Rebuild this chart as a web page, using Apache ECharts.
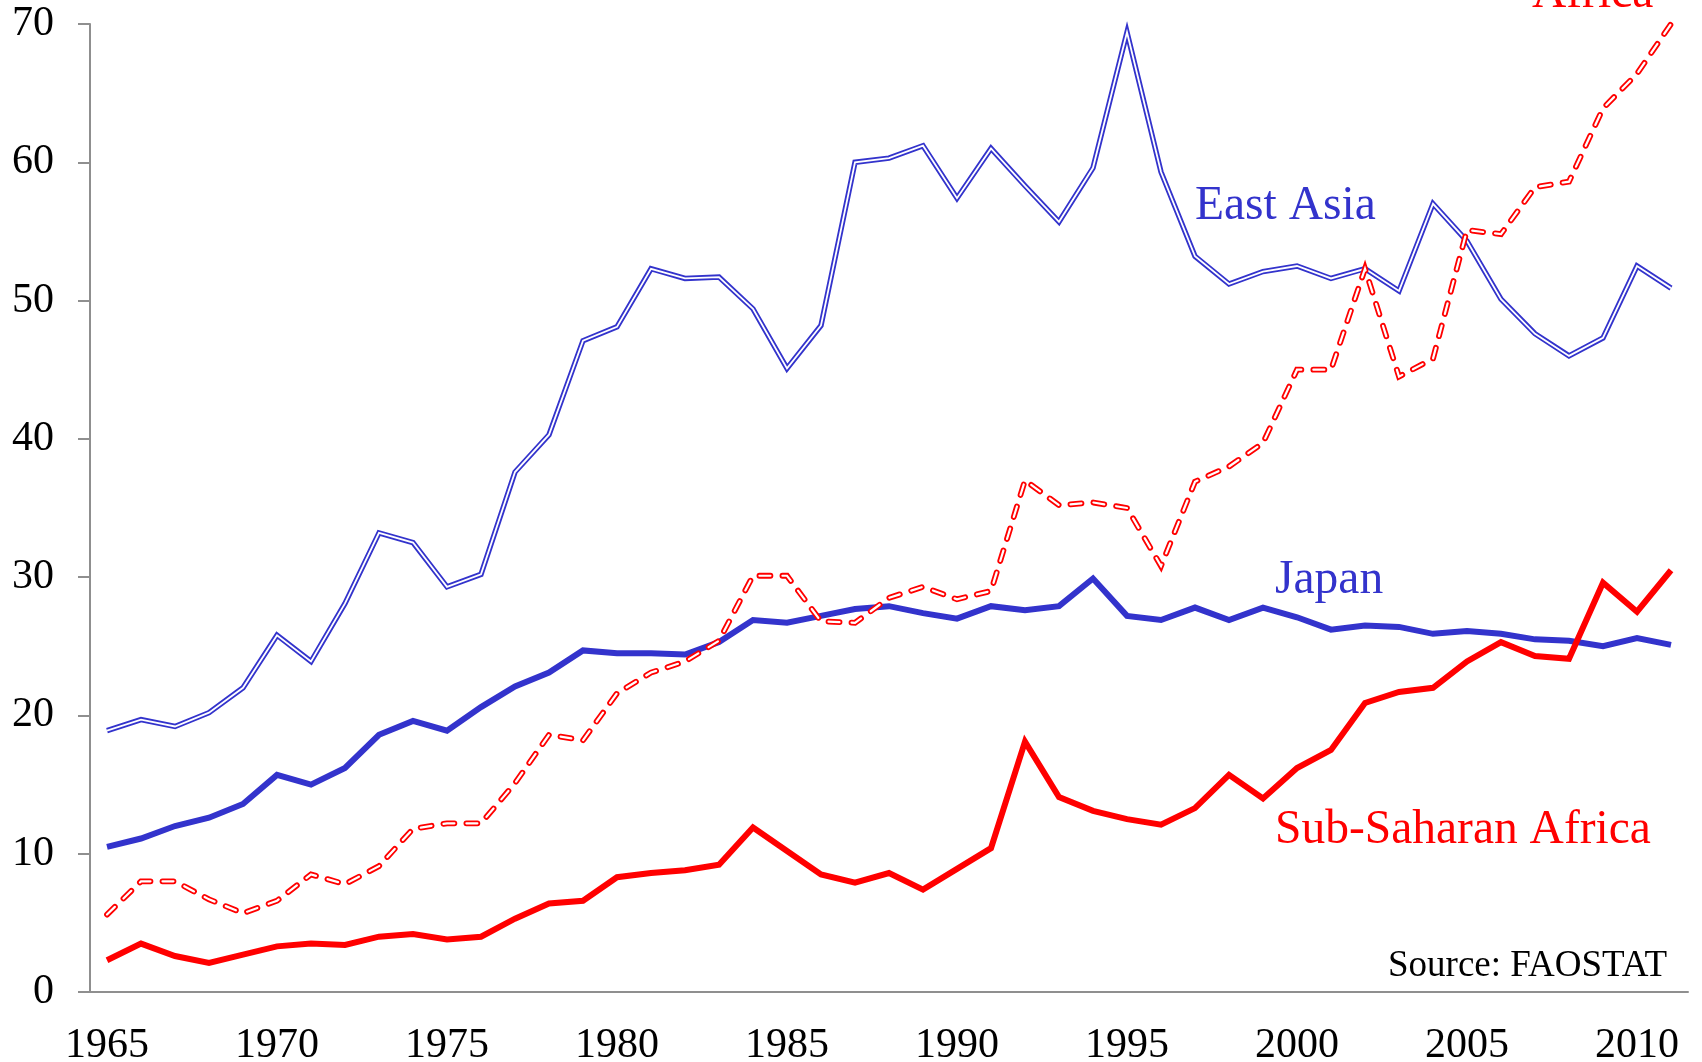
<!DOCTYPE html>
<html>
<head>
<meta charset="utf-8">
<title>Share chart</title>
<script src="https://cdn.jsdelivr.net/npm/echarts@6/dist/echarts.min.js"></script>
<style>
    html, body { margin: 0; padding: 0; background: #fff; }
    #main { width: 1702px; height: 1062px; }
</style>
</head>
<body>
<div id="main"></div>
<script>
var years = [];
for (var y = 1965; y <= 2011; y++) { years.push(String(y)); }

// values
var eastAsia = [18.9, 19.7, 19.2, 20.2, 22.0, 25.8, 23.9, 28.1, 33.2, 32.5,
    29.3, 30.2, 37.6, 40.3, 47.1, 48.1, 52.3, 51.6, 51.7, 49.4,
    45.1, 48.2, 60.0, 60.3, 61.2, 57.4, 61.0, 58.3, 55.7, 59.6,
    69.4, 59.3, 53.2, 51.2, 52.1, 52.5, 51.6, 52.3, 50.7, 57.0,
    54.3, 50.1, 47.6, 46.0, 47.3, 52.5, 50.9];
var japan = [10.5, 11.1, 12.0, 12.6, 13.6, 15.7, 15.0, 16.2, 18.6, 19.6,
    18.9, 20.6, 22.1, 23.1, 24.7, 24.5, 24.5, 24.4, 25.3, 26.9,
    26.7, 27.2, 27.7, 27.9, 27.4, 27.0, 27.9, 27.6, 27.9, 29.9,
    27.2, 26.9, 27.8, 26.9, 27.8, 27.1, 26.2, 26.5, 26.4, 25.9,
    26.1, 25.9, 25.5, 25.4, 25.0, 25.6, 25.1];
var northAfrica = [5.6, 8.0, 8.0, 6.7, 5.7, 6.6, 8.5, 7.8, 9.1, 11.8,
    12.2, 12.2, 15.1, 18.6, 18.2, 21.6, 23.1, 23.9, 25.4, 30.1,
    30.1, 26.8, 26.7, 28.5, 29.3, 28.4, 29.0, 37.0, 35.2, 35.4,
    35.0, 30.8, 36.9, 38.0, 39.7, 45.0, 45.0, 52.3, 44.5, 45.8,
    55.1, 54.8, 58.2, 58.6, 63.9, 66.4, 70.0];
var subSahara = [2.3, 3.5, 2.6, 2.1, 2.7, 3.3, 3.5, 3.4, 4.0, 4.2,
    3.8, 4.0, 5.3, 6.4, 6.6, 8.3, 8.6, 8.8, 9.2, 11.9,
    10.2, 8.5, 7.9, 8.6, 7.4, 8.9, 10.4, 18.1, 14.1, 13.1,
    12.5, 12.1, 13.3, 15.7, 14.0, 16.2, 17.5, 20.9, 21.7, 22.0,
    23.9, 25.3, 24.3, 24.1, 29.6, 27.5, 30.5];

var blue = '#3333CC';
var red = '#FF0000';
var serif = "'Liberation Serif', 'DejaVu Serif', serif";

var myChart = echarts.init(document.getElementById('main'), null, { renderer: 'canvas' });

function lineSeries(name, data, color, width, dash) {
    return {
        name: name,
        type: 'line',
        data: data,
        symbol: 'none',
        silent: true,
        lineStyle: {
            color: color,
            width: width,
            type: dash ? [11, 12] : 'solid',
            cap: dash ? 'round' : 'butt',
            join: 'miter'
        }
    };
}

function label(text, x, y, color, size) {
    return {
        type: 'text',
        x: x,
        y: y,
        style: {
            text: text,
            fill: color,
            font: size + 'px ' + serif,
            textAlign: 'left',
            align: 'left',
            textVerticalAlign: 'middle',
            verticalAlign: 'middle'
        }
    };
}

var option = {
    animation: false,
    backgroundColor: '#fff',
    grid: { left: 90, right: 14, top: 24, bottom: 70, containLabel: false, outerBoundsMode: 'none' },
    xAxis: {
        type: 'category',
        data: years,
        boundaryGap: true,
        axisLine: { lineStyle: { color: '#8f8f8f', width: 2 } },
        axisTick: { interval: 0, length: 12, lineStyle: { color: '#8f8f8f', width: 2 } },
        axisLabel: {
            interval: 4,
            margin: 33,
            color: '#000',
            fontFamily: serif,
            fontSize: 42
        },
        splitLine: { show: false }
    },
    yAxis: {
        type: 'value',
        min: 0,
        max: 70,
        interval: 10,
        axisLine: { show: true, lineStyle: { color: '#8f8f8f', width: 2 } },
        axisTick: { show: true, length: 12, lineStyle: { color: '#8f8f8f', width: 2 } },
        axisLabel: {
            margin: 36,
            color: '#000',
            fontFamily: serif,
            fontSize: 42
        },
        splitLine: { show: false }
    },
    series: [
        lineSeries('East Asia', eastAsia, blue, 5.4, false),
        lineSeries('East Asia inner', eastAsia, '#fff', 1.8, false),
        lineSeries('Japan', japan, blue, 6, false),
        lineSeries('North Africa', northAfrica, red, 5.8, true),
        lineSeries('North Africa inner', northAfrica, '#fff', 2.2, true),
        lineSeries('Sub-Saharan Africa', subSahara, red, 6, false)
    ],
    graphic: [
        label('East Asia', 1195, 207, blue, 47.5),
        label('Japan', 1275, 581, blue, 47.5),
        label('Sub-Saharan Africa', 1275, 831, red, 47.5),
        label('Africa', 1532, -5, red, 47.5),
        label('Source: FAOSTAT', 1388, 966, '#000', 37)
    ]
};
myChart.setOption(option);
</script>
</body>
</html>
